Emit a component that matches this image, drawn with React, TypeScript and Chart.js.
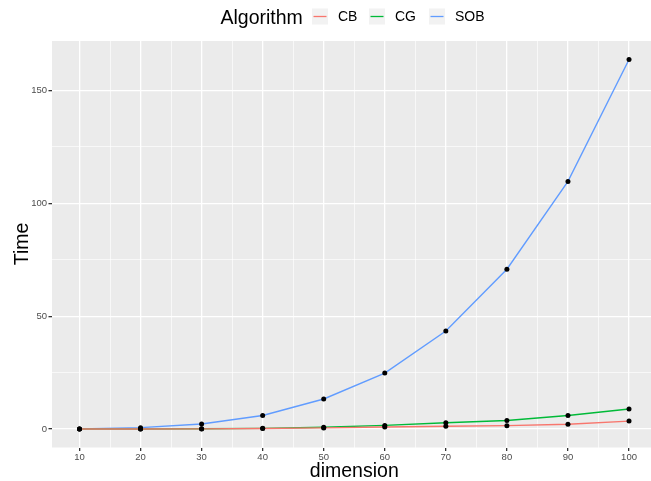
import React, { useEffect, useRef } from 'react';
import { Chart, registerables } from 'chart.js';

Chart.register(...registerables);

const dimensions = [10, 20, 30, 40, 50, 60, 70, 80, 90, 100];
const cbTimes = [0.01, 0.02, 0.05, 0.2, 0.5, 0.9, 1.2, 1.5, 2.1, 3.5];
const cgTimes = [0.01, 0.03, 0.1, 0.3, 0.8, 1.6, 2.8, 3.8, 6.0, 8.85];
const sobTimes = [0.05, 0.6, 2.2, 6.0, 13.3, 24.8, 43.4, 70.8, 109.7, 163.7];

const seriesNames = ['CB', 'CG', 'SOB'];
const seriesColors = ['#F8766D', '#00BA38', '#619CFF'];
const seriesValues = [cbTimes, cgTimes, sobTimes];

const xTickValues = [10, 15, 20, 25, 30, 35, 40, 45, 50, 55, 60, 65, 70, 75, 80, 85, 90, 95, 100];
const xMajorStep = 10;
const yTickValues = [0, 25, 50, 75, 100, 125, 150];
const yMajorStep = 50;

const legendTitle = 'Algorithm';
const xTitle = 'dimension';
const yTitle = 'Time';

const FONT = '"Liberation Sans", Arial, Helvetica, sans-serif';

const decorPlugin = {
  id: 'decor',
  beforeDraw(chart: any) {
    const { ctx, chartArea } = chart;
    ctx.save();
    ctx.fillStyle = '#EBEBEB';
    ctx.fillRect(chartArea.left, chartArea.top, chartArea.right - chartArea.left, chartArea.bottom - chartArea.top);
    ctx.restore();
  },
  afterDraw(chart: any) {
    const { ctx } = chart;
    ctx.save();
    // legend
    ctx.fillStyle = '#000000';
    ctx.textBaseline = 'alphabetic';
    ctx.textAlign = 'left';
    ctx.font = `19.5px ${FONT}`;
    ctx.fillText(legendTitle, 220.5, 24);
    const keyX = [312, 369, 429];
    const labelX = [338, 395, 455];
    seriesNames.forEach((name, i) => {
      ctx.fillStyle = '#F2F2F2';
      ctx.fillRect(keyX[i], 8.5, 16, 16);
      ctx.strokeStyle = seriesColors[i];
      ctx.lineWidth = 1.3;
      ctx.beginPath();
      ctx.moveTo(keyX[i] + 1.5, 16.5);
      ctx.lineTo(keyX[i] + 14.5, 16.5);
      ctx.stroke();
      ctx.fillStyle = '#000000';
      ctx.font = `14px ${FONT}`;
      ctx.fillText(name, labelX[i], 21);
    });
    // axis titles
    ctx.font = `19.5px ${FONT}`;
    ctx.textAlign = 'center';
    ctx.fillText(xTitle, 354.3, 476.5);
    ctx.translate(27.5, 244);
    ctx.rotate(-Math.PI / 2);
    ctx.fillText(yTitle, 0, 0);
    ctx.restore();
  },
};

export default function App() {
  const canvasRef = useRef<HTMLCanvasElement | null>(null);

  useEffect(() => {
    if (!canvasRef.current) return;
    const lineSets = seriesNames.map((name, i) => ({
      label: name,
      data: dimensions.map((d, j) => ({ x: d, y: seriesValues[i][j] })),
      borderColor: seriesColors[i],
      backgroundColor: seriesColors[i],
      borderWidth: 1.4,
      pointRadius: 0,
      tension: 0,
      order: 2,
    }));
    const pointSets = seriesNames.map((name, i) => ({
      label: name + ' points',
      data: dimensions.map((d, j) => ({ x: d, y: seriesValues[i][j] })),
      showLine: false,
      pointRadius: 2.5,
      pointBackgroundColor: '#000000',
      pointBorderColor: '#000000',
      pointBorderWidth: 0,
      order: 1,
    }));

    const chart = new Chart(canvasRef.current, {
      type: 'line',
      data: { datasets: [...lineSets, ...pointSets] as any },
      options: {
        animation: false,
        responsive: false,
        devicePixelRatio: 1,
        layout: { autoPadding: false, padding: { top: 41, left: 0, right: 0, bottom: 0 } },
        plugins: { legend: { display: false }, tooltip: { enabled: false } },
        scales: {
          x: {
            type: 'linear',
            min: 5.5,
            max: 103.6,
            afterBuildTicks: (scale: any) => {
              scale.ticks = xTickValues.map((v) => ({ value: v }));
            },
            afterFit: (scale: any) => {
              scale.height = 33.5;
              scale.paddingLeft = 0;
              scale.paddingRight = 0;
            },
            border: { display: false },
            grid: {
              color: '#FFFFFF',
              lineWidth: (c: any) => (c.tick && c.tick.value % xMajorStep === 0 ? 1.3 : 0.65),
              tickColor: (c: any) => (c.tick && c.tick.value % xMajorStep === 0 ? '#333333' : 'rgba(0,0,0,0)'),
              tickLength: 3.5,
              drawTicks: true,
            },
            ticks: {
              autoSkip: false,
              maxRotation: 0,
              padding: 0.5,
              color: '#4D4D4D',
              font: { family: FONT, size: 9.5 },
              callback: (v: any) => (Number(v) % xMajorStep === 0 ? String(v) : ''),
            },
          },
          y: {
            type: 'linear',
            min: -8.19,
            max: 171.9,
            afterBuildTicks: (scale: any) => {
              scale.ticks = yTickValues.map((v) => ({ value: v }));
            },
            afterFit: (scale: any) => {
              scale.width = 52;
              scale.paddingTop = 0;
              scale.paddingBottom = 0;
            },
            border: { display: false },
            grid: {
              color: '#FFFFFF',
              lineWidth: (c: any) => (c.tick && c.tick.value % yMajorStep === 0 ? 1.3 : 0.65),
              tickColor: (c: any) => (c.tick && c.tick.value % yMajorStep === 0 ? '#333333' : 'rgba(0,0,0,0)'),
              tickLength: 3.5,
              drawTicks: true,
            },
            ticks: {
              autoSkip: false,
              padding: 1.5,
              color: '#4D4D4D',
              font: { family: FONT, size: 9.5 },
              callback: (v: any) => (Number(v) % yMajorStep === 0 ? String(v) : ''),
            },
          },
        },
      },
      plugins: [decorPlugin],
    });
    return () => chart.destroy();
  }, []);

  return (
    <div style={{ position: 'fixed', left: 0, top: 0, width: 651, height: 481, background: '#FFFFFF' }}>
      <canvas ref={canvasRef} width={651} height={481} style={{ display: 'block' }} />
    </div>
  );
}
